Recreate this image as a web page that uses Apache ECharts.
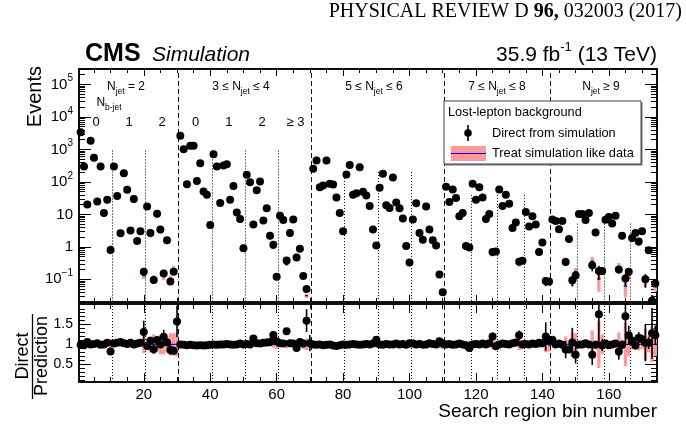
<!DOCTYPE html>
<html><head><meta charset="utf-8">
<script src="https://cdn.jsdelivr.net/npm/echarts@6/dist/echarts.min.js"></script>
<style>html,body{margin:0;padding:0;background:#fff}#c{width:686px;height:427px}</style>
</head><body><div id="c"></div>
<script>
// ---- Direct-from-simulation event yields, per N_jet group (search bins 1..174) ----
const eventsNjet2 = [3400, 300, 20, 1850, 550, 25, 300, 11, 28, 0.8,
  300, 37, 2.6, 185, 57, 3.2, 30, 1.5, 3.0, 0.17,
  17.6, 2.65, 0.095, 10.5, 3.4, 0.15, 1.6, 0.085, 0.17, 0.012];
const eventsNjet34 = [2650, 1020, 84, 1300, 1300, 107, 375, 51, 40, 4.7,
  710, 300, 22.5, 318, 350, 28, 75, 11.5, 7.2, 0.91,
  165, 97, 4.9, 55, 102, 6.5, 15.3, 2.2, 1.15, 0.12,
  9.1, 6.7, 0.38, 2.65, 7.0, 0.47, 0.87, 0.127, 0.05, 0.012];
const eventsNjet56 = [252, 455, 68, 77, 455, 87, 83, 33, 11, 3.0,
  168, 334, 40, 45, 283, 50, 38, 18, 3.4, 1.1,
  66, 177, 19, 15.7, 136, 23, 15.3, 7.5, 1.07, 0.33,
  7.0, 22, 2.65, 1.65, 17.6, 3.4, 1.6, 1.1, 0.14, 0.04];
const eventsNjet78 = [71, 24, 58, 32, 8.7, 11, 1.07, 0.95,
  87, 28, 68, 33, 7.2, 10.2, 0.69, 0.72,
  58, 18, 40, 21.4, 3.8, 5.6, 0.35, 0.37,
  11.8, 4.2, 8.7, 4.9, 0.69, 1.36, 0.089, 0.085];
const eventsNjet9 = [7.0, 6.3, 3.5, 6.3, 0.34, 1.73, 0.093, 0.13,
  10.2, 10.2, 6.7, 11, 0.27, 2.77, 0.18, 0.18,
  6.8, 8.3, 5.2, 9.1, 0.2, 2.19, 0.105, 0.17,
  1.86, 2.65, 1.45, 3.0, 0.1, 0.79, 0.022, 0.074];

// ---- Direct / Prediction ratio ----
const ratioNjet2 = [0.99, 0.98, 1.06, 1.0, 1.01, 1.03, 0.99, 1.0, 1.04, 0.82,
  1.02, 1.04, 1.06, 1.03, 1.01, 1.04, 1.0, 1.02, 1.04, 1.31,
  0.96, 1.09, 0.88, 1.11, 1.0, 1.19, 1.05, 0.86, 0.84, 1.58];
const ratioNjet34 = [1.0, 0.99, 0.98, 0.99, 0.98, 0.97, 0.98, 0.97, 0.98, 0.99,
  1.0, 0.99, 1.0, 1.0, 1.01, 1.0, 0.99, 1.0, 1.02, 1.0,
  1.01, 1.0, 1.15, 1.03, 1.02, 1.04, 1.05, 1.06, 1.24, 1.08,
  1.03, 1.02, 1.33, 1.03, 1.02, 0.91, 1.06, 1.02, 1.6, 1.03];
const ratioNjet56 = [1.0, 0.99, 1.0, 0.98, 0.99, 1.0, 0.97, 0.96, 0.98, 1.0,
  0.99, 1.0, 1.01, 1.0, 0.99, 1.0, 1.01, 1.0, 1.02, 1.12,
  1.0, 0.99, 1.01, 1.0, 1.0, 1.02, 1.0, 1.01, 0.99, 1.03,
  1.02, 1.0, 1.01, 0.99, 1.0, 1.03, 1.01, 1.0, 1.08, 1.02];
const ratioNjet78 = [1.0, 1.01, 0.99, 1.0, 1.02, 1.0, 0.98, 0.91,
  1.0, 1.01, 1.0, 1.02, 1.0, 1.03, 1.2, 0.95,
  1.0, 1.02, 1.01, 1.0, 1.03, 1.05, 1.23, 1.0,
  1.01, 1.0, 1.02, 1.01, 1.04, 1.03, 1.2, 1.1];
const ratioNjet9 = [1.12, 1.0, 1.02, 0.99, 0.87, 0.87, 1.05, 0.74,
  1.0, 1.0, 1.03, 1.0, 0.74, 0.99, 1.76, 0.98,
  1.02, 0.98, 1.0, 1.02, 0.82, 0.99, 1.71, 1.23,
  1.1, 0.97, 1.17, 1.13, 1.04, 1.04, 1.28, 1.23];

// ---- relative uncertainty of the "treat simulation like data" prediction (pink band) ----
const predErrNjet2 = [0.02, 0.02, 0.04, 0.02, 0.02, 0.04, 0.02, 0.05, 0.04, 0.14,
  0.02, 0.04, 0.06, 0.03, 0.04, 0.06, 0.04, 0.08, 0.06, 0.22,
  0.15, 0.2, 0.25, 0.18, 0.25, 0.25, 0.2, 0.28, 0.28, 0.3];
const predErrNjet34 = [0.02, 0.02, 0.03, 0.02, 0.02, 0.03, 0.02, 0.03, 0.03, 0.06,
  0.02, 0.02, 0.03, 0.02, 0.02, 0.03, 0.03, 0.04, 0.04, 0.07,
  0.02, 0.03, 0.05, 0.03, 0.03, 0.05, 0.04, 0.06, 0.08, 0.12,
  0.04, 0.05, 0.1, 0.06, 0.05, 0.1, 0.08, 0.12, 0.15, 0.12];
const predErrNjet56 = [0.02, 0.02, 0.03, 0.03, 0.02, 0.03, 0.03, 0.03, 0.04, 0.05,
  0.02, 0.02, 0.03, 0.03, 0.02, 0.03, 0.03, 0.04, 0.05, 0.07,
  0.03, 0.02, 0.04, 0.04, 0.03, 0.04, 0.04, 0.05, 0.07, 0.09,
  0.05, 0.04, 0.06, 0.07, 0.04, 0.06, 0.07, 0.08, 0.1, 0.12];
const predErrNjet78 = [0.03, 0.04, 0.03, 0.04, 0.05, 0.05, 0.08, 0.09,
  0.03, 0.04, 0.03, 0.04, 0.05, 0.05, 0.12, 0.1,
  0.04, 0.04, 0.04, 0.05, 0.07, 0.06, 0.14, 0.12,
  0.05, 0.06, 0.05, 0.06, 0.1, 0.08, 0.2, 0.18];
const predErrNjet9 = [0.06, 0.06, 0.08, 0.06, 0.2, 0.1, 0.3, 0.28,
  0.06, 0.06, 0.07, 0.06, 0.35, 0.1, 0.6, 0.25,
  0.07, 0.06, 0.08, 0.06, 0.3, 0.12, 0.55, 0.3,
  0.12, 0.1, 0.15, 0.12, 0.4, 0.2, 0.45, 0.3];

// ---- relative statistical uncertainty of the direct simulation (black bars) ----
const statErrNjet2 = [0.01, 0.02, 0.04, 0.01, 0.02, 0.04, 0.02, 0.05, 0.04, 0.08,
  0.02, 0.04, 0.06, 0.02, 0.04, 0.06, 0.04, 0.07, 0.06, 0.22,
  0.05, 0.06, 0.12, 0.05, 0.06, 0.15, 0.07, 0.14, 0.12, 0.25];
const statErrNjet34 = [0.01, 0.01, 0.03, 0.01, 0.01, 0.03, 0.02, 0.03, 0.03, 0.05,
  0.01, 0.02, 0.03, 0.02, 0.02, 0.03, 0.03, 0.04, 0.04, 0.05,
  0.02, 0.02, 0.05, 0.03, 0.02, 0.04, 0.04, 0.05, 0.08, 0.1,
  0.04, 0.05, 0.06, 0.05, 0.04, 0.06, 0.05, 0.08, 0.18, 0.2];
const statErrNjet56 = [0.02, 0.02, 0.03, 0.03, 0.02, 0.03, 0.03, 0.03, 0.04, 0.05,
  0.02, 0.02, 0.03, 0.03, 0.02, 0.03, 0.03, 0.04, 0.05, 0.05,
  0.03, 0.02, 0.04, 0.04, 0.02, 0.04, 0.04, 0.05, 0.05, 0.07,
  0.04, 0.03, 0.05, 0.05, 0.04, 0.05, 0.06, 0.06, 0.08, 0.1];
const statErrNjet78 = [0.03, 0.04, 0.03, 0.04, 0.05, 0.05, 0.07, 0.08,
  0.03, 0.04, 0.03, 0.04, 0.05, 0.05, 0.08, 0.07,
  0.03, 0.04, 0.04, 0.04, 0.06, 0.06, 0.1, 0.09,
  0.05, 0.06, 0.05, 0.06, 0.08, 0.07, 0.3, 0.12];
const statErrNjet9 = [0.05, 0.06, 0.07, 0.06, 0.25, 0.1, 0.35, 0.3,
  0.05, 0.05, 0.06, 0.05, 0.35, 0.1, 0.45, 0.15,
  0.06, 0.05, 0.07, 0.05, 0.25, 0.1, 0.4, 0.2,
  0.1, 0.1, 0.12, 0.1, 0.45, 0.15, 0.5, 0.2];

// ---- region boundaries and tick labels ----
const njetBoundaries = [30.5, 70.5, 110.5, 142.5];
const nbBoundaries = [[10.5, 930], [20.5, 930], [40.5, 930], [50.5, 930], [60.5, 930],
  [80.5, 200], [90.5, 200], [100.5, 200], [118.5, 40], [126.5, 40], [134.5, 40],
  [150.5, 5.2], [158.5, 5.2], [166.5, 5.2]];
const xTickLabels = [20, 40, 60, 80, 100, 120, 140, 160];
const yTickLabels = [0.1, 1, 10, 100, 1000, 10000, 100000];
const ratioTickLabels = [0.5, 1, 1.5];

// ---------------------------------------------------------------
const allEvents = [].concat(eventsNjet2, eventsNjet34, eventsNjet56, eventsNjet78, eventsNjet9);
const allRatio = [].concat(ratioNjet2, ratioNjet34, ratioNjet56, ratioNjet78, ratioNjet9);
const allPredErr = [].concat(predErrNjet2, predErrNjet34, predErrNjet56, predErrNjet78, predErrNjet9);
const allStatErr = [].concat(statErrNjet2, statErrNjet34, statErrNjet56, statErrNjet78, statErrNjet9);

const PINK = '#ff9a9a', BLUE = '#0000ee';
const FONT = '"Liberation Sans", Arial, Helvetica, sans-serif';

const topBox = [], topPred = [], topErr = [], topPts = [];
const botBox = [], botLine = [], botErr = [], botPts = [];
allEvents.forEach((d, i) => {
  const b = i + 1, r = allRatio[i], ep = allPredErr[i], ed = allStatErr[i];
  const pred = d / r;
  topBox.push([b, Math.max(pred * (1 - ep), 1e-4), pred * (1 + ep)]);
  topPred.push([b, pred]);
  topErr.push([b, Math.max(d * (1 - ed), 1e-4), d * (1 + ed)]);
  topPts.push([b, d]);
  botBox.push([b, 1 - ep, 1 + ep]);
  botLine.push([b, 1]);
  botErr.push([b, r * (1 - ed), r * (1 + ed)]);
  botPts.push([b, r]);
});

// tick positions
const xMinor = []; for (let v = 5; v <= 170; v += 5) if (v % 20) xMinor.push(v);
const logMinor = [];
for (let e = -2; e <= 5; e++) for (let m = 2; m <= 9; m++) { const v = m * Math.pow(10, e); if (v >= 0.02 && v <= 3e5) logMinor.push(v); }
const ratioMinor = []; for (let k = 1; k <= 20; k++) if (k % 5) ratioMinor.push(k / 10);

function boxItem(params, api) {
  const x = api.value(0);
  const a = api.coord([x - 0.5, api.value(2)]);
  const b = api.coord([x + 0.5, api.value(1)]);
  return { type: 'rect', shape: { x: a[0], y: a[1], width: b[0] - a[0], height: b[1] - a[1] }, style: { fill: PINK } };
}
function hLineItem(params, api) {
  const x = api.value(0);
  const a = api.coord([x - 0.5, api.value(1)]), b = api.coord([x + 0.5, api.value(1)]);
  return { type: 'line', shape: { x1: a[0], y1: a[1], x2: b[0], y2: b[1] }, style: { stroke: BLUE, lineWidth: 1.2 } };
}
function vBarItem(params, api) {
  const x = api.value(0);
  const a = api.coord([x, api.value(1)]), b = api.coord([x, api.value(2)]);
  return { type: 'line', shape: { x1: a[0], y1: a[1], x2: b[0], y2: b[1] }, style: { stroke: '#000', lineWidth: 1.6 } };
}

const lineStyleFrame = { color: '#000', width: 1.5 };
function xAx(grid, pos, ticks, len, labels) {
  return {
    type: 'value', gridIndex: grid, position: pos, min: 0.5, max: 174.5,
    axisLine: { show: true, onZero: false, lineStyle: lineStyleFrame },
    axisTick: { show: true, inside: true, length: len, customValues: ticks, lineStyle: { color: '#000', width: 1 } },
    axisLabel: labels ? { show: true, customValues: labels, margin: 5, fontSize: 15, color: '#000', fontFamily: FONT } : { show: false },
    splitLine: { show: false }
  };
}
function yLog(grid, pos, ticks, len, labels) {
  return {
    type: 'log', logBase: 10, gridIndex: grid, position: pos, min: 0.02, max: 3e5,
    axisLine: { show: true, onZero: false, lineStyle: lineStyleFrame },
    axisTick: { show: true, inside: true, length: len, customValues: ticks, lineStyle: { color: '#000', width: 1 } },
    axisLabel: labels ? {
      show: true, customValues: labels, margin: 6, fontSize: 15, color: '#000', fontFamily: FONT, lineHeight: 22,
      formatter: v => { const e = Math.round(Math.log10(v)); if (e === 0) return '1'; if (e === 1) return '10'; return '10{sup|' + (e < 0 ? '\u2212' + (-e) : e) + '}'; },
      rich: { sup: { fontSize: 10, lineHeight: 10, verticalAlign: 'top', fontFamily: FONT, color: '#000' } }
    } : { show: false },
    splitLine: { show: false }
  };
}
function yLin(grid, pos, ticks, len, labels) {
  return {
    type: 'value', gridIndex: grid, position: pos, min: 0.05, max: 2.02,
    axisLine: { show: true, onZero: false, lineStyle: lineStyleFrame },
    axisTick: { show: true, inside: true, length: len, customValues: ticks, lineStyle: { color: '#000', width: 1 } },
    axisLabel: labels ? { show: true, customValues: labels, margin: 6, fontSize: 14, color: '#000', fontFamily: FONT, formatter: v => String(v) } : { show: false },
    splitLine: { show: false }
  };
}

const dashed = { type: [5, 3], color: '#000', width: 1 };
const dotted = { type: [1, 2], color: '#000', width: 1 };

const topMarkLines = njetBoundaries.map(x => ({ xAxis: x, lineStyle: dashed }))
  .concat(nbBoundaries.map(([x, y0]) => [{ coord: [x, y0], lineStyle: dotted }, { coord: [x, 0.02] }]));
const botMarkLines = njetBoundaries.map(x => ({ xAxis: x, lineStyle: dashed }))
  .concat(nbBoundaries.map(([x]) => ({ xAxis: x, lineStyle: dotted })));

const mlBase = { symbol: ['none', 'none'], silent: true, label: { show: false }, animation: false };

const chart = echarts.init(document.getElementById('c'), null, { renderer: 'canvas' });

function njText(x, y, txt) {
  return { type: 'text', x: x, y: y, style: { text: txt, font: '12px ' + FONT, fill: '#000', align: 'center', verticalAlign: 'middle', lineHeight: 18,
    rich: { sub: { fontSize: 8.5, lineHeight: 8, verticalAlign: 'bottom', fontFamily: FONT } } } };
}
function plain(x, y, txt, size, align, extra) {
  return Object.assign({ type: 'text', x: x, y: y, style: { text: txt, font: size + 'px ' + FONT, fill: '#000', align: align || 'center', verticalAlign: 'middle' } }, extra || {});
}

const markerStyle = { color: '#000', opacity: 1, borderWidth: 0 };

chart.setOption({
  animation: false,
  backgroundColor: '#fff',
  grid: [
    { left: 79, top: 69, width: 578, height: 233 },
    { left: 79, top: 304, width: 578, height: 78 }
  ],
  xAxis: [
    xAx(0, 'bottom', xMinor, 4), xAx(0, 'bottom', xTickLabels, 7),
    xAx(0, 'top', xMinor, 4), xAx(0, 'top', xTickLabels, 7),
    xAx(1, 'bottom', xMinor, 5), xAx(1, 'bottom', xTickLabels, 9, xTickLabels),
    xAx(1, 'top', xMinor, 5), xAx(1, 'top', xTickLabels, 9)
  ],
  yAxis: [
    yLog(0, 'left', logMinor, 6), yLog(0, 'left', yTickLabels, 12, yTickLabels),
    yLog(0, 'right', logMinor, 6), yLog(0, 'right', yTickLabels, 12),
    yLin(1, 'left', ratioMinor, 6), yLin(1, 'left', ratioTickLabels, 12, ratioTickLabels),
    yLin(1, 'right', ratioMinor, 6), yLin(1, 'right', ratioTickLabels, 12)
  ],
  series: [
    { type: 'custom', name: 'Treat simulation like data', xAxisIndex: 0, yAxisIndex: 0, clip: true, z: 1,
      renderItem: boxItem, data: topBox, encode: { x: 0, y: [1, 2] },
      markLine: Object.assign({}, mlBase, { data: topMarkLines }) },
    { type: 'custom', xAxisIndex: 0, yAxisIndex: 0, clip: true, z: 2, renderItem: hLineItem, data: topPred, encode: { x: 0, y: 1 } },
    { type: 'custom', xAxisIndex: 0, yAxisIndex: 0, clip: true, z: 3, renderItem: vBarItem, data: topErr, encode: { x: 0, y: [1, 2] } },
    { type: 'scatter', name: 'Direct from simulation', xAxisIndex: 0, yAxisIndex: 0, clip: true, z: 4,
      symbol: 'circle', symbolSize: 8, itemStyle: markerStyle, data: topPts },

    { type: 'custom', xAxisIndex: 4, yAxisIndex: 4, clip: true, z: 1, renderItem: boxItem, data: botBox, encode: { x: 0, y: [1, 2] },
      markLine: Object.assign({}, mlBase, { data: botMarkLines }) },
    { type: 'custom', xAxisIndex: 4, yAxisIndex: 4, clip: true, z: 2, renderItem: hLineItem, data: botLine, encode: { x: 0, y: 1 } },
    { type: 'custom', xAxisIndex: 4, yAxisIndex: 4, clip: true, z: 3, renderItem: vBarItem, data: botErr, encode: { x: 0, y: [1, 2] } },
    { type: 'scatter', xAxisIndex: 4, yAxisIndex: 4, clip: true, z: 4, symbol: 'circle', symbolSize: 8, itemStyle: markerStyle, data: botPts }
  ],
  graphic: [
    // journal header
    { type: 'text', x: 682, y: 12, style: { text: '{a|PHYSICAL REVIEW D }{b|96,}{a| 032003 (2017)}', align: 'right', verticalAlign: 'middle',
      rich: { a: { fontFamily: '"Liberation Serif", "Times New Roman", serif', fontSize: 20, color: '#222' },
              b: { fontFamily: '"Liberation Serif", "Times New Roman", serif', fontSize: 20, fontWeight: 'bold', color: '#222' } } } },
    // CMS label
    { type: 'text', x: 85, y: 54, style: { text: 'CMS', font: 'bold 25px ' + FONT, fill: '#000', align: 'left', verticalAlign: 'middle' } },
    { type: 'text', x: 152, y: 55.5, style: { text: 'Simulation', font: 'italic 21px ' + FONT, fill: '#000', align: 'left', verticalAlign: 'middle' } },
    { type: 'text', x: 657, y: 55, style: { text: '35.9 fb{sup|-1} (13 TeV)', font: '21px ' + FONT, fill: '#000', align: 'right', verticalAlign: 'middle', lineHeight: 28,
      rich: { sup: { fontSize: 13, lineHeight: 13, verticalAlign: 'top', fontFamily: FONT } } } },
    // axis titles
    { type: 'text', x: 35, y: 66, rotation: Math.PI / 2, style: { text: 'Events', font: '20px ' + FONT, fill: '#000', align: 'right', verticalAlign: 'middle' } },
    { type: 'text', x: 23.5, y: 356, rotation: Math.PI / 2, style: { text: 'Direct', font: '18px ' + FONT, fill: '#000', align: 'center', verticalAlign: 'middle' } },
    { type: 'text', x: 42, y: 356, rotation: Math.PI / 2, style: { text: 'Prediction', font: '18px ' + FONT, fill: '#000', align: 'center', verticalAlign: 'middle' } },
    { type: 'line', shape: { x1: 32.5, y1: 314, x2: 32.5, y2: 399 }, style: { stroke: '#000', lineWidth: 1.3 } },
    { type: 'text', x: 657, y: 412, style: { text: 'Search region bin number', font: '19px ' + FONT, fill: '#000', align: 'right', verticalAlign: 'middle' } },
    // region labels
    njText(126, 87, 'N{sub|jet} = 2'),
    njText(109, 103, 'N{sub|b-jet}'),
    plain(96, 122, '0', 13), plain(129, 122, '1', 13), plain(162, 122, '2', 13),
    njText(241, 87, '3 \u2264 N{sub|jet} \u2264 4'),
    plain(195.6, 122, '0', 13), plain(228.8, 122, '1', 13), plain(262, 122, '2', 13), plain(295.4, 122, '\u2265 3', 13),
    njText(374, 87, '5 \u2264 N{sub|jet} \u2264 6'),
    njText(497, 87, '7 \u2264 N{sub|jet} \u2264 8'),
    njText(601, 87, 'N{sub|jet} \u2265 9'),
    // legend
    { type: 'rect', shape: { x: 445.5, y: 102.5, width: 197, height: 63 }, style: { fill: '#777' }, z: 10 },
    { type: 'rect', shape: { x: 444, y: 101, width: 197, height: 63 }, style: { fill: '#fff', stroke: '#444', lineWidth: 1 }, z: 11 },
    { type: 'text', x: 448, y: 112, z: 12, style: { text: 'Lost-lepton background', font: '12.8px ' + FONT, fill: '#000', align: 'left', verticalAlign: 'middle' } },
    { type: 'line', z: 12, shape: { x1: 468, y1: 125, x2: 468, y2: 141 }, style: { stroke: '#000', lineWidth: 1.6 } },
    { type: 'circle', z: 12, shape: { cx: 468, cy: 133, r: 3.8 }, style: { fill: '#000' } },
    { type: 'text', x: 492, y: 133, z: 12, style: { text: 'Direct from simulation', font: '12.8px ' + FONT, fill: '#000', align: 'left', verticalAlign: 'middle' } },
    { type: 'rect', z: 12, shape: { x: 451, y: 146, width: 35, height: 15 }, style: { fill: PINK } },
    { type: 'line', z: 12, shape: { x1: 451, y1: 153.5, x2: 486, y2: 153.5 }, style: { stroke: BLUE, lineWidth: 1.2 } },
    { type: 'text', x: 492, y: 153.5, z: 12, style: { text: 'Treat simulation like data', font: '12.8px ' + FONT, fill: '#000', align: 'left', verticalAlign: 'middle' } }
  ]
});
</script>
</body></html>
